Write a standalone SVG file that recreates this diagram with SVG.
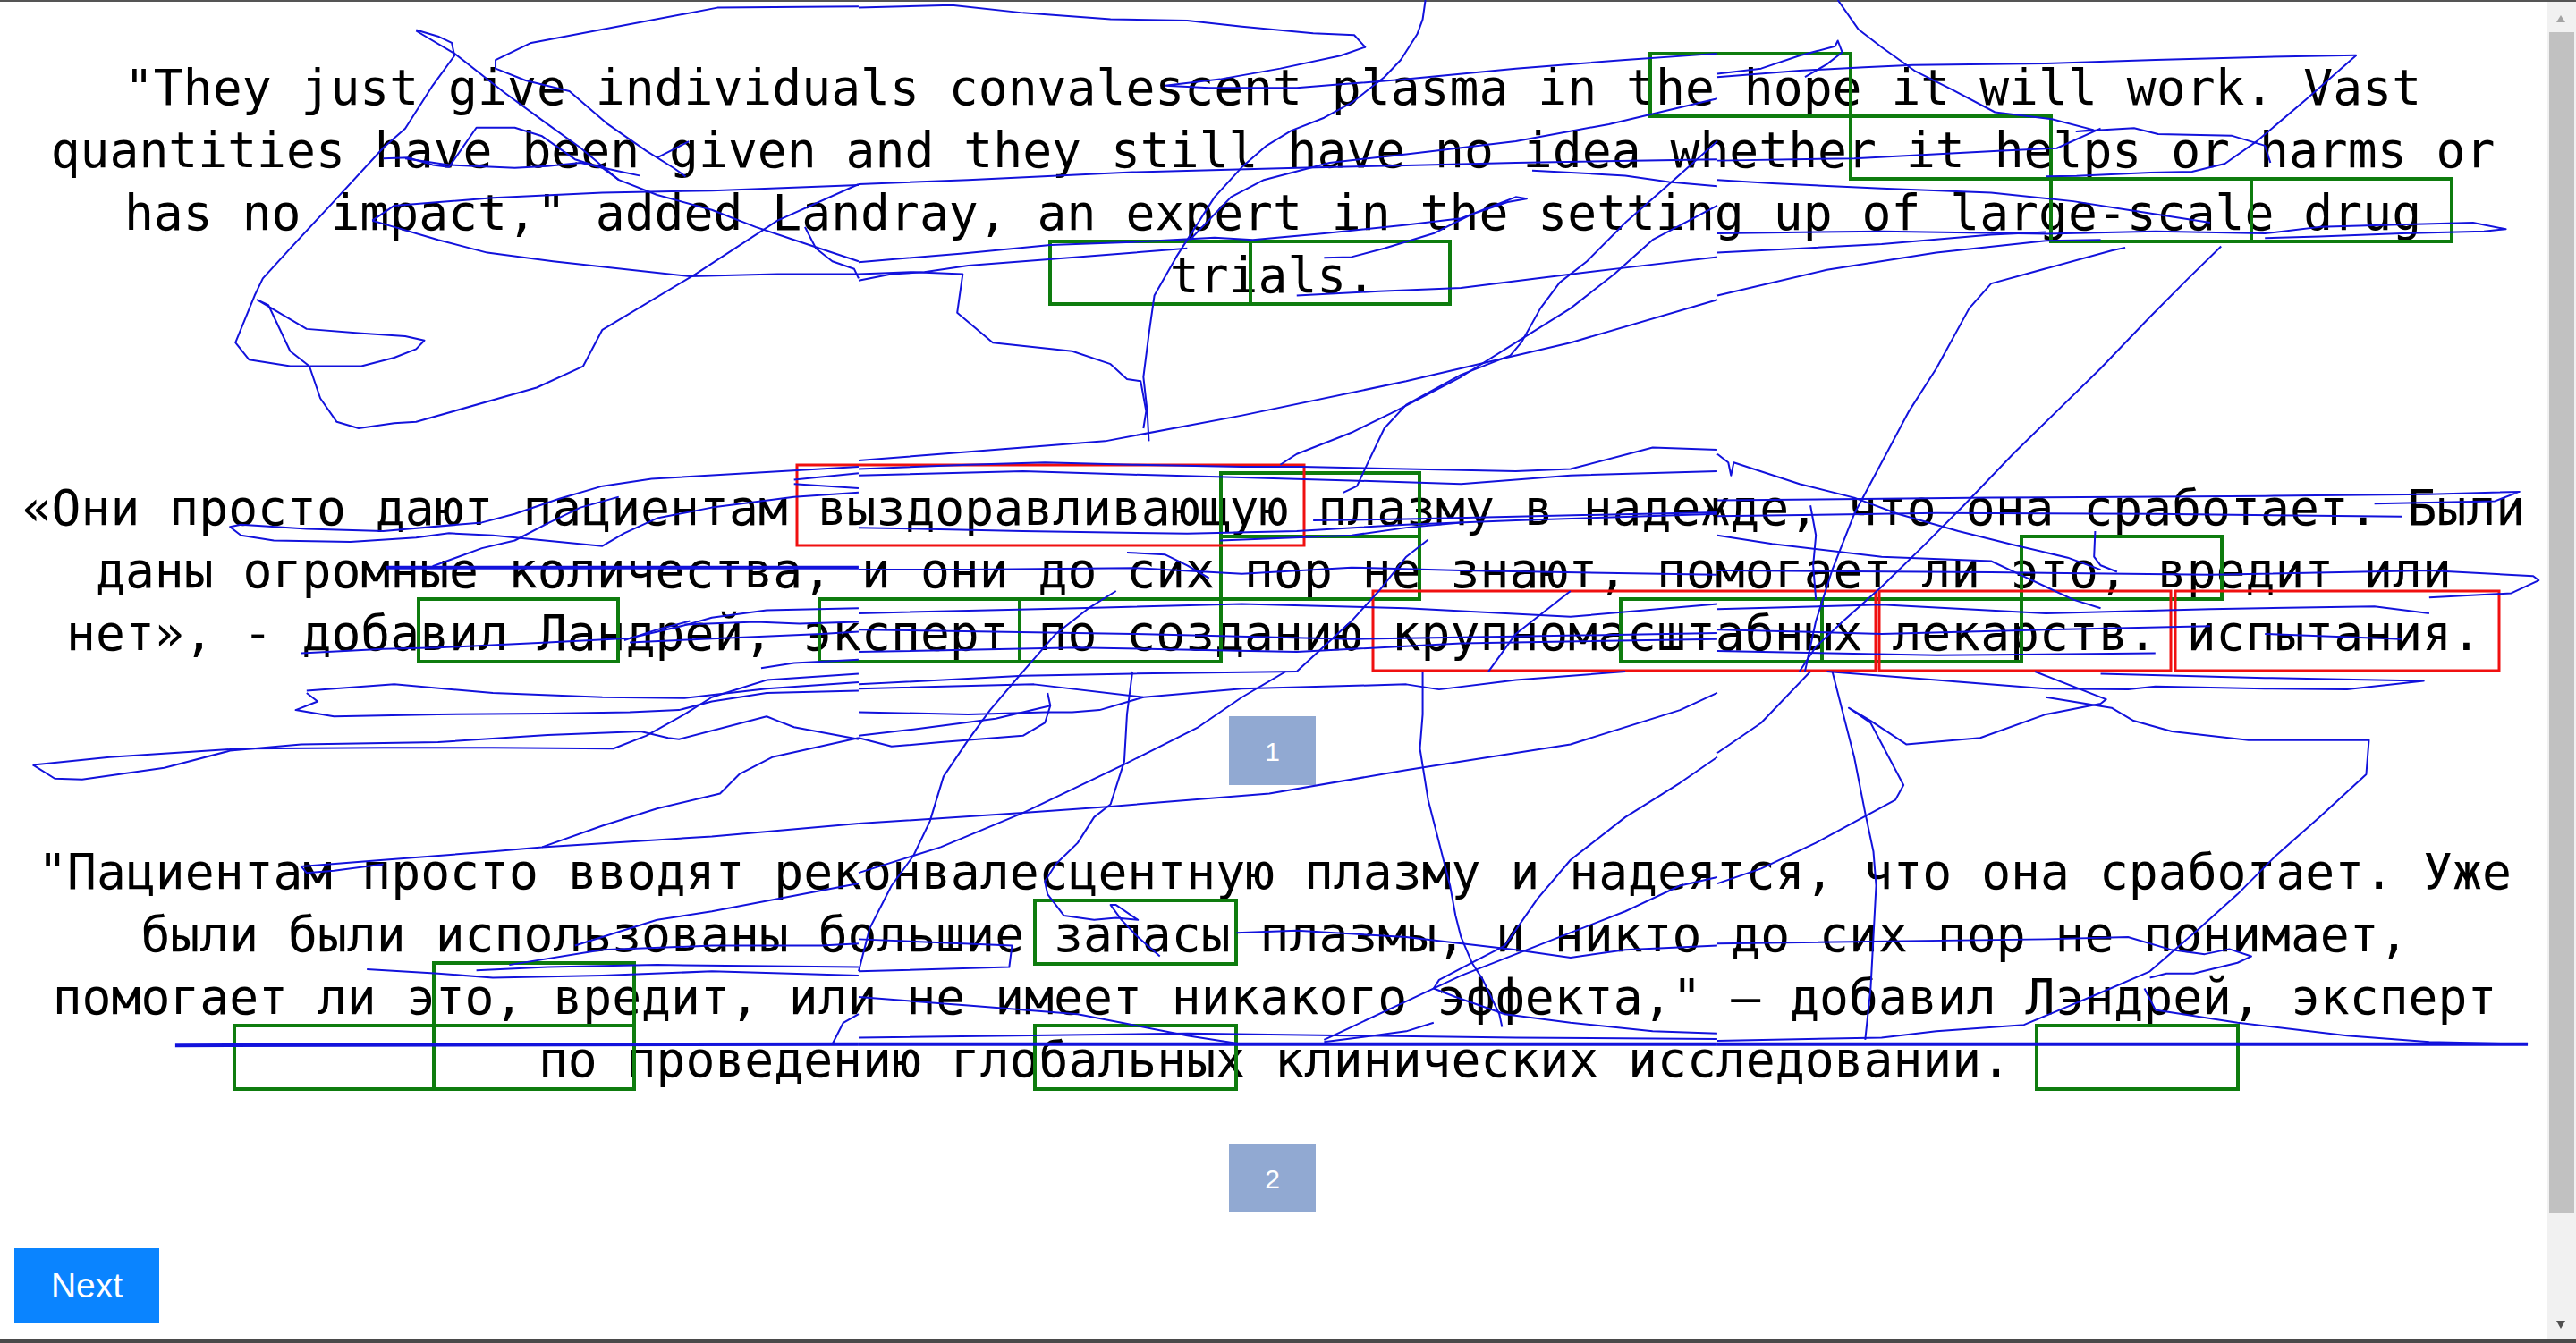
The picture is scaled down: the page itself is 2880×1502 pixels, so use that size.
<svg xmlns="http://www.w3.org/2000/svg" width="2880" height="1502" viewBox="0 0 2880 1502">
<style>
.t{font-family:"DejaVu Sans Mono",monospace;font-size:54.7px;fill:#000;text-anchor:middle}
.g{fill:none;stroke:#0e7c0e;stroke-width:4}
.r{fill:none;stroke:#f01010;stroke-width:3}
.s path{fill:none;stroke:#1212dc;stroke-width:2;vector-effect:non-scaling-stroke;stroke-linejoin:round}
.s path.k{stroke-width:4}
.pg{fill:#91a9d2}
.pt{font-family:"Liberation Sans",Arial,sans-serif;font-size:30px;fill:#fff;text-anchor:middle}
</style>
<rect x="0" y="0" width="2880" height="1502" fill="#fff"/>
<g id="scrollbar">
<rect x="2848" y="2" width="32" height="1497" fill="#f1f1f1"/>
<rect x="2850" y="36" width="28" height="1321" fill="#c1c1c1"/>
<polygon points="2858,25 2868,25 2863,17" fill="#a3a3a3"/>
<polygon points="2858,1477 2868,1477 2863,1486" fill="#505050"/>
</g>
<rect x="0" y="0" width="2880" height="2" fill="#555"/>
<rect x="0" y="1498" width="2880" height="4" fill="#4a4a4a"/>
<g id="para1">
<text class="t" x="1423" y="117">"They just give individuals convalescent plasma in the hope it will work. Vast</text>
<text class="t" x="1423" y="187">quantities have been given and they still have no idea whether it helps or harms or</text>
<text class="t" x="1423" y="257">has no impact," added Landray, an expert in the setting up of large-scale drug</text>
<text class="t" x="1423" y="327">trials.</text>
</g>
<g id="para2">
<text class="t" x="1424" y="587">«Они просто дают пациентам выздоравливающую плазму в надежде, что она сработает. Были</text>
<text class="t" x="1424" y="657">даны огромные количества, и они до сих пор не знают, помогает ли это, вредит или</text>
<text class="t" x="1424" y="727">нет», - добавил Ландрей, эксперт по созданию крупномасштабных лекарств. испытания.</text>
</g>
<g id="para3">
<text class="t" x="1425" y="994">"Пациентам просто вводят реконвалесцентную плазму и надеятся, что она сработает. Уже</text>
<text class="t" x="1425" y="1064">были были использованы большие запасы плазмы, и никто до сих пор не понимает,</text>
<text class="t" x="1425" y="1134">помогает ли это, вредит, или не имеет никакого эффекта," — добавил Лэндрей, эксперт</text>
<text class="t" x="1425" y="1204">по проведению глобальных клинических исследовании.</text>
</g>
<g id="green-boxes">
<rect class="g" x="1845" y="60" width="224" height="70"/>
<rect class="g" x="2069" y="130" width="224" height="70"/>
<rect class="g" x="2293" y="200" width="224" height="70"/>
<rect class="g" x="2517" y="200" width="224" height="70"/>
<rect class="g" x="1174" y="270" width="224" height="70"/>
<rect class="g" x="1398" y="270" width="223" height="70"/>
<rect class="g" x="1365" y="529" width="222" height="71"/>
<rect class="g" x="1365" y="600" width="222" height="70"/>
<rect class="g" x="468" y="670" width="223" height="70"/>
<rect class="g" x="916" y="670" width="224" height="70"/>
<rect class="g" x="1140" y="670" width="225" height="70"/>
<rect class="g" x="1812" y="670" width="225" height="70"/>
<rect class="g" x="2037" y="670" width="223" height="70"/>
<rect class="g" x="2260" y="600" width="224" height="70"/>
<rect class="g" x="1157" y="1007" width="225" height="71"/>
<rect class="g" x="485" y="1077" width="224" height="70"/>
<rect class="g" x="262" y="1147" width="223" height="71"/>
<rect class="g" x="485" y="1147" width="224" height="71"/>
<rect class="g" x="1157" y="1147" width="225" height="71"/>
<rect class="g" x="2277" y="1147" width="225" height="71"/>
</g>
<g id="red-boxes">
<rect class="r" x="891" y="520" width="567" height="90"/>
<rect class="r" x="1535" y="661" width="562" height="89"/>
<rect class="r" x="2101" y="661" width="326" height="89"/>
<rect class="r" x="2432" y="661" width="362" height="89"/>
</g>
<g id="page-1">
<rect class="pg" x="1374" y="801" width="97" height="77"/>
<text class="pt" x="1422.5" y="851">1</text>
</g>
<g id="page-2">
<rect class="pg" x="1374" y="1279" width="97" height="77"/>
<text class="pt" x="1422.5" y="1329">2</text>
</g>
<g id="next-button">
<rect x="16" y="1396" width="162" height="84" fill="#0a84ff"/>
<text x="97" y="1451" font-family="Liberation Sans, Arial, sans-serif" font-size="39" fill="#fff" text-anchor="middle">Next</text>
</g>
<g id="connectors" class="s">
<g transform="scale(0.6122,0.479)">
<path d="M1568,15 L1310,18 L970,100 L905,140 L905,160 L960,188 L1040,213 L1110,290 L1180,352 L1230,392 L1252,412"/>
<path d="M1200,368 L1228,350 L1258,330"/>
<path d="M760,70 L800,85 L825,100 L830,130 L790,200 L740,300 L700,345 L610,470 L530,580 L480,650 L465,690 L430,800 L455,840 L530,855 L660,855 L720,835 L760,815 L775,795 L740,785 L660,778 L560,768 L470,700 L490,712 L530,820 L565,855 L585,930 L615,985 L655,1000 L720,988 L760,985 L980,905 L1065,855 L1100,770 L1270,640 L1420,515 L1568,430"/>
<path d="M760,72 L830,125 L920,215 L1000,290 L1060,345 L1130,420 L1200,455 L1300,490 L1380,530 L1450,560 L1568,610"/>
<path d="M700,370 L745,368 L790,385 L820,390 L870,298 L940,298 L990,318 L1050,372 L1100,392 L1130,420"/>
<path d="M740,370 L820,385 L940,392 L1000,388 L1060,380 L1130,400 L1168,410"/>
<path d="M680,515 L720,480 L900,462 L1100,450 L1300,445 L1568,432"/>
<path d="M680,515 L720,530 L800,560 L890,590 L1010,610 L1260,645 L1420,640 L1568,640"/>
<path d="M1470,530 L1490,580 L1520,610 L1560,628 L1568,650"/>
<path d="M1568,1090 L1190,1118 L1100,1135 L1020,1165 L940,1200 L880,1220 L700,1240 L560,1235 L440,1225 L420,1230 L440,1250 L500,1262 L640,1265 L760,1255 L820,1245 L900,1250 L1100,1275 L1140,1245 L1200,1210 L1300,1185 L1450,1160 L1568,1150"/>
<path d="M1450,1120 L1568,1105"/>
<path d="M1450,1130 L1568,1140"/>
<path class="k" d="M705,1325 L1568,1325"/>
<path d="M790,1322 L880,1280 L940,1262 L1000,1222 L1060,1185 L1130,1160"/>
<path d="M550,1525 L700,1515 L800,1512 L1000,1500 L1150,1490 L1250,1460 L1300,1442 L1400,1425 L1568,1420"/>
<path d="M1250,1458 L1380,1452 L1460,1456 L1568,1452"/>
<path d="M1140,1495 L1200,1470 L1260,1450"/>
<path d="M1390,1560 L1450,1548 L1568,1540"/>
<path d="M1150,1500 L1320,1490 L1500,1480 L1568,1475"/>
</g>
<g transform="translate(960,0) scale(0.6122,0.479)">
<path d="M0,18 L170,12 L300,30 L460,45 L600,48 L700,62 L830,78 L905,82 L925,110 L880,130 L770,160 L660,185 L560,200 L640,205 L800,205 L870,198"/>
<path d="M1035,0 L1030,45 L1020,80 L990,140 L960,180 L900,240 L850,275 L790,305 L745,340 L700,390 L650,460 L610,540 L580,600 L540,690 L530,780 L520,880 L527,960 L530,1030"/>
<path d="M0,640 L100,635 L190,640 L180,730 L245,800 L390,820 L460,850 L490,885 L515,890 L525,960 L520,1000"/>
<path d="M0,612 L190,592 L350,572 L500,565 L650,555 L720,560 L850,545 L1000,525 L1100,510 L1200,460 L1220,464 L1185,472 L1120,500 L1050,545 L960,580 L900,600 L850,602"/>
<path d="M0,430 L200,420 L500,402 L800,392 L1000,386 L1200,380 L1568,372"/>
<path d="M1230,398 L1400,410 L1480,425 L1568,435"/>
<path d="M870,198 L1000,185 L1200,160 L1400,140 L1568,125"/>
<path d="M0,655 L60,640 L120,635 L200,620 L400,600 L600,580"/>
<path d="M1568,230 L1370,290 L1200,330 L1000,360 L860,380 L740,420 L680,460 L620,540 L605,560"/>
<path d="M1568,700 L1300,800 L1000,890 L700,970 L450,1030 L300,1045 L0,1075"/>
<path d="M1568,600 L1400,625 L1250,648 L1100,672 L950,680 L800,690"/>
<path d="M1568,330 L1480,430 L1400,520 L1330,610 L1280,660 L1245,720 L1210,800 L1190,830 L1100,875 L1000,945 L960,1000 L930,1080 L910,1135 L885,1150"/>
<path d="M1568,480 L1450,560 L1380,640 L1300,720 L1200,800 L1100,880 L980,960 L900,1010 L800,1060 L770,1085"/>
<path d="M0,1095 L200,1085 L340,1080 L500,1085 L700,1090 L810,1090 L1000,1095 L1200,1100 L1300,1095 L1450,1045 L1568,1050"/>
<path d="M0,1110 L300,1100 L500,1108 L700,1115 L900,1122 L1100,1130 L1300,1110 L1568,1100"/>
<path d="M0,1232 L300,1240 L600,1246 L800,1240 L1000,1225 L1200,1215 L1568,1200"/>
<path d="M830,1215 L1000,1212 L1200,1206 L1568,1196"/>
<path d="M0,1330 L200,1330 L500,1326 L700,1340 L900,1325 L1100,1332 L1568,1342"/>
<path d="M660,1262 L900,1250 L1000,1232 L1100,1220"/>
<path d="M490,1290 L560,1295 L600,1320 L640,1350"/>
<path d="M0,1432 L400,1420 L700,1410 L1000,1420 L1300,1440 L1568,1410"/>
<path d="M0,1470 L500,1480 L900,1492 L1200,1486 L1568,1478"/>
<path d="M0,1522 L400,1512 L800,1522 L1100,1502 L1568,1492"/>
<path d="M800,1568 L900,1450 L950,1380 L1000,1300 L1040,1260"/>
<path d="M300,1568 L360,1480 L420,1420 L470,1380"/>
<path d="M1150,1568 L1200,1480 L1260,1420 L1300,1380"/>
</g>
<g transform="translate(1920,0) scale(0.6122,0.479)">
<path d="M220,0 L258,69 L300,110 L360,165 L430,210 L507,262 L611,278 L686,303 L656,307 L761,299 L805,313 L940,317 L1000,340 L1010,380"/>
<path d="M0,172 L80,160 L150,130 L215,108 L220,95 L228,122 L200,150 L160,180"/>
<path d="M1167,129 L1000,133 L800,140 L600,148 L357,152 L268,157 L150,165 L0,180"/>
<path d="M1167,129 L1077,230 L987,328 L927,382 L867,401 L791,403 L656,411 L600,412"/>
<path d="M0,375 L250,370 L520,352 L620,346 L700,300"/>
<path d="M0,420 L100,428 L300,440 L500,450 L650,470 L750,490 L900,520"/>
<path d="M0,545 L300,540 L600,546 L800,540 L1000,545 L1100,530 L1200,526 L1380,520 L1440,535 L1400,540 L1250,545 L1100,552 L1000,556"/>
<path d="M0,590 L300,570 L500,548 L600,542"/>
<path d="M0,690 L200,630 L400,590 L600,562 L700,560"/>
<path d="M920,575 L860,650 L790,740 L700,860 L620,960 L540,1060 L450,1180 L380,1270 L300,1370 L230,1450 L180,1510 L150,1568"/>
<path d="M745,578 L720,585 L500,662 L460,720 L400,860 L350,960 L300,1080 L250,1200 L210,1330 L180,1450 L160,1568"/>
<path d="M0,1060 L20,1080 L25,1110 L30,1080 L150,1130 L250,1162 L330,1200 L440,1240 L540,1272 L640,1302 L700,1330"/>
<path d="M0,1168 L500,1162 L1000,1158 L1300,1154 L1465,1148 L1420,1170 L1200,1176"/>
<path d="M0,1205 L400,1198 L800,1200 L1250,1206"/>
<path d="M0,1332 L500,1336 L900,1342 L1300,1332 L1490,1345 L1500,1355 L1450,1385 L1300,1395"/>
<path d="M690,1240 L688,1300 L700,1320 L730,1335"/>
<path d="M170,1180 L180,1250 L175,1320 L180,1400"/>
<path d="M0,1422 L300,1412 L600,1432 L900,1422 L1200,1416 L1300,1432"/>
<path d="M1000,1480 L1250,1492"/>
<path d="M0,1470 L300,1480 L600,1470 L900,1462"/>
<path d="M0,1520 L400,1530 L800,1525"/>
<path d="M0,1250 L100,1270 L300,1300 L500,1310 L550,1340 L600,1370 L650,1400 L700,1420"/>
</g>
<g transform="translate(0,751) scale(0.6122,0.479)">
<path d="M560,45 L720,30 L900,50 L1100,60 L1250,62 L1400,40 L1568,25"/>
<path d="M560,50 L580,70 L540,90 L610,105 L800,100 L1000,98 L1150,95 L1240,90 L1300,70 L1400,50 L1568,45"/>
<path d="M60,218 L100,250 L150,252 L300,225 L420,185 L550,170 L800,165 L1000,148 L1170,140 L1220,155 L1240,158 L1400,105 L1420,115 L1450,130 L1568,158"/>
<path d="M60,218 L200,200 L440,180 L700,178 L900,178 L1120,180 L1180,150 L1250,100 L1300,60 L1400,20 L1568,5"/>
<path d="M1568,155 L1410,200 L1350,240 L1315,285 L1200,320 L1100,360 L990,410 L900,420 L700,440 L550,455 L560,470 L610,465 L700,450"/>
<path d="M990,410 L1300,385 L1568,355"/>
<path d="M930,685 L1100,650 L1300,640 L1500,640 L1568,635"/>
<path d="M1050,640 L1200,580 L1300,560 L1568,495"/>
<path d="M670,695 L800,705 L900,715 L1100,710 L1300,700 L1568,710"/>
<path d="M870,698 L1000,690 L1200,685 L1568,690"/>
<path d="M1568,800 L1540,820 L1520,870"/>
<path class="k" d="M320,873 L1568,870"/>
</g>
<g transform="translate(960,751) scale(0.6122,0.479)">
<path d="M0,30 L300,10 L500,5 L800,0"/>
<path d="M0,40 L320,30 L520,60 L700,40 L1000,30 L1060,42 L1200,20 L1400,0"/>
<path d="M0,95 L200,100 L340,95 L390,95 L440,90 L520,60"/>
<path d="M0,150 L100,135 L250,110 L350,80"/>
<path d="M0,155 L60,175 L150,165 L300,150 L340,120 L350,80 L345,50"/>
<path d="M0,355 L300,330 L460,315 L750,285 L1000,230 L1300,170 L1500,90 L1568,50"/>
<path d="M300,0 L240,90 L200,160 L155,245 L130,350 L100,430 L60,500 L20,600 L0,700"/>
<path d="M500,0 L490,100 L485,210 L460,310 L430,340 L400,400 L360,450 L340,490 L345,520 L375,570 L430,580 L470,575 L510,580 L470,545 L460,545 L480,580 L510,620 L550,665"/>
<path d="M780,0 L700,60 L620,130 L480,220 L300,330 L150,410 L0,470"/>
<path d="M1030,0 L1030,100 L1025,180 L1040,300 L1060,400 L1080,500 L1090,570 L1100,620 L1120,680 L1140,720 L1170,800 L1175,830"/>
<path d="M1568,200 L1500,260 L1400,340 L1300,440 L1240,530 L1180,640 L1120,680 L1060,720 L1050,740 L1090,760 L1180,800 L1300,820 L1450,840 L1568,845"/>
<path d="M1568,480 L1500,500 L1400,560 L1300,610 L1200,660 L1100,710 L1000,770 L900,830 L850,860"/>
<path d="M0,625 L280,640 L275,690 L0,700"/>
<path d="M690,610 L800,605 L1000,620 L1200,650 L1300,668 L1400,650 L1568,640"/>
<path d="M0,760 L200,780 L400,800 L600,850 L700,870"/>
<path d="M850,865 L1000,840 L1050,820"/>
<path class="k" d="M0,870 L1568,870"/>
<path d="M0,855 L600,845 L900,850 L1200,855 L1568,858"/>
</g>
<g transform="translate(1920,751) scale(0.6122,0.479)">
<path d="M200,0 L400,20 L600,40 L750,42 L800,35 L1000,40 L1150,42 L1290,22 L1000,15 L700,5"/>
<path d="M210,0 L230,100 L250,200 L270,330 L285,420 L290,500 L285,620 L280,740 L270,860"/>
<path d="M580,0 L710,65 L700,75 L600,100 L480,155 L345,170 L280,115 L240,85 L280,120 L340,265 L325,300 L180,400 L80,460 L0,495"/>
<path d="M600,60 L720,85 L760,115 L830,140 L970,160 L1190,160 L1185,240 L1100,340 L1020,430 L950,520 L880,600 L790,700 L700,750 L560,825 L400,840 L300,855 L0,862"/>
<path d="M790,715 L820,705 L870,705 L950,680 L975,665 L935,648 L890,660 L830,650 L750,620 L600,625 L0,635"/>
<path d="M780,740 L800,790 L850,800 L950,820 L1150,850 L1300,865 L1480,870"/>
<path class="k" d="M0,870 L1480,870"/>
<path d="M170,0 L80,120 L0,190"/>
</g>
</g>
</svg>
